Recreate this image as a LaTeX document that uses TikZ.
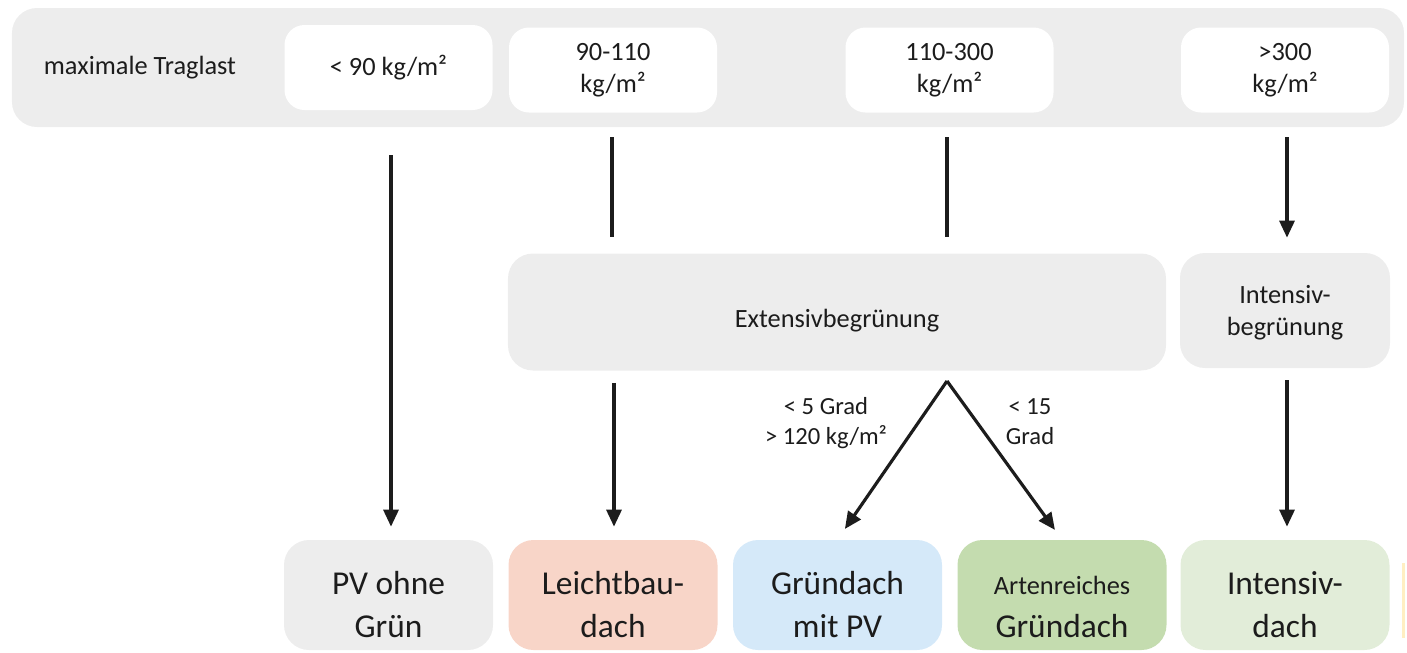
\documentclass[tikz,border=0pt]{standalone}
\usepackage{fontspec}
\setmainfont{Carlito}
\usetikzlibrary{arrows.meta, positioning}
\definecolor{ink}{HTML}{1C1C1C}
\definecolor{panel}{HTML}{EDEDED}
\definecolor{leicht}{HTML}{F8D5C8}
\definecolor{pvgruen}{HTML}{D5E9F9}
\definecolor{arten}{HTML}{C4DCAF}
\definecolor{intens}{HTML}{E2EDD9}
\definecolor{sliver}{HTML}{FFEFC2}
% tall strut on a first line: pushes the text a bit below the box centre
\newcommand{\rooflift}{\rule{0pt}{24pt}}
\tikzset{
  font=\fontsize{15}{18}\selectfont,
  >={Triangle[length=3.4mm, width=3mm]},
  %
  bar/.style={fill=panel, rounded corners=5mm, inner sep=0pt,
              minimum width=278.4mm, minimum height=23.8mm},
  load/.style={fill=white, rounded corners=4mm, inner sep=0pt, align=center,
               text=ink, minimum width=41.6mm, minimum height=17mm},
  kind/.style={fill=panel, rounded corners=5mm, inner sep=0pt, align=center,
               text=ink, minimum height=23.4mm},
  roof/.style={fill=panel, rounded corners=5mm, inner sep=0pt, align=center,
               text=ink, minimum width=41.8mm, minimum height=22mm,
               font=\fontsize{19}{24.4}\selectfont},
  %
  link/.style={draw=ink, line width=1.8pt},
  flow/.style={link, ->},
  lbl/.style={text=ink, align=center, inner sep=0pt,
              font=\fontsize{14}{17}\selectfont},
}
\begin{document}
\begin{tikzpicture}[x=0.2mm, y=-0.2mm]
  \useasboundingbox (0,0) rectangle (1407,653);

  % load classes
  \node[bar] (traglast) at (708,67.5) {};
  \node[text=ink] (title) at (140,68) {maximale Traglast};
  \node[load] (l1) at (388.5,67.5) {< 90 kg/m²};
  \node[load] (l2) at (613,70) {90-110\\kg/m²};
  \node[load] (l3) at (949.5,70) {110-300\\kg/m²};
  \node[load] (l4) at (1285,70) {>300\\kg/m²};

  % greening type
  \node[kind, minimum width=131.6mm] (ext) at (837,312)
    {\rule{0pt}{20.5pt}Extensivbegrünung};
  \node[kind, minimum width=42mm, minimum height=23mm] (int) at (1285,310.5)
    {\rule{0pt}{13pt}Intensiv-\\begrünung};

  % roof types
  \node[roof] (pv) at (388.5,595) {\rooflift PV ohne\\Grün};
  \node[roof, fill=leicht] (lb) at (613,595) {\rooflift Leichtbau-\\dach};
  \node[roof, fill=pvgruen] (gpv) at (837.5,595) {\rooflift Gründach\\mit PV};
  \node[roof, fill=arten] (ag) at (1062,595)
    {\rooflift{\fontsize{15}{18}\selectfont Artenreiches}\\Gründach};
  \node[roof, fill=intens] (id) at (1285,595) {\rooflift Intensiv-\\dach};
  \fill[sliver] (1402,563) rectangle (1404.5,638);

  % line ends
  \coordinate (c1) at (391,155);
  \coordinate (c2a) at (612,137);
  \coordinate (c2b) at (612,237);
  \coordinate (c3a) at (947,137);
  \coordinate (c3b) at (947,237);
  \coordinate (c4) at (1287,137);
  \coordinate (fork) at (947,381);

  \draw[flow, shorten >=2.6mm] (c1) -- (c1 |- pv.north);
  \draw[link] (c2a) -- (c2b);
  \draw[link] (c3a) -- (c3b);
  \draw[flow, shorten >=3mm] (c4) -- (c4 |- int.north);

  \draw[flow, shorten <=2.4mm, shorten >=2.6mm]
    (ext.south -| 614,0) -- (lb.north -| 614,0);
  \draw[flow, shorten <=2.4mm, shorten >=2.6mm]
    (int.south -| c4) -- (id.north -| c4);
  \draw[flow, shorten >=2.6mm] (fork) -- (gpv.north);
  \draw[flow, shorten >=2.4mm] (fork) -- (ag.north);

  % slope conditions
  \node[lbl] (cond1) at (826,423) {< 5 Grad\\> 120 kg/m²};
  \node[lbl] (cond2) at (1030,422) {< 15\\Grad};

\end{tikzpicture}
\end{document}
